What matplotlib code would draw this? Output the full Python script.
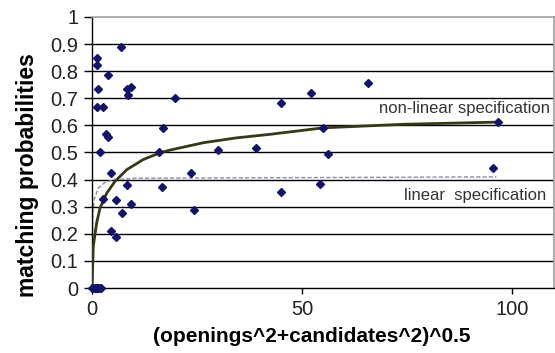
import numpy as np
import matplotlib
matplotlib.use("Agg")
import matplotlib.pyplot as plt

plt.rcParams["font.family"] = "Liberation Sans"

# observed matching probabilities
obs_x = [0.0, 0.3, 0.6, 0.9, 1.2, 1.5, 1.8, 2.1,
         1.1, 1.1, 6.8, 1.5, 3.7, 1.3, 2.7, 3.3, 3.7, 1.9, 4.5, 2.5,
         4.5, 5.6, 5.6, 7.2, 8.3, 9.4, 8.4, 8.6, 9.4, 19.8, 17.0, 16.0,
         16.7, 23.5, 24.3, 30.1, 39.0, 44.9, 52.1, 65.8, 55.1, 56.3,
         44.9, 54.3, 96.6, 95.4]
obs_y = [0.0, 0.0, 0.0, 0.0, 0.0, 0.0, 0.0, 0.0,
         0.848, 0.823, 0.888, 0.733, 0.785, 0.669, 0.669, 0.569, 0.558, 0.501, 0.425, 0.328,
         0.210, 0.188, 0.326, 0.277, 0.379, 0.311, 0.733, 0.711, 0.743, 0.700, 0.591, 0.501,
         0.372, 0.426, 0.289, 0.509, 0.517, 0.681, 0.721, 0.758, 0.591, 0.495,
         0.353, 0.385, 0.612, 0.443]

# non-linear specification (fitted curve)
nl_x = [0.0, 0.3, 1.1, 1.9, 3.5, 5.5, 8.3, 12.2, 16.2, 18.6, 26.5, 34.4, 42.4, 55.1, 74.1, 96.3]
nl_y = [0.0, 0.153, 0.24, 0.295, 0.35, 0.394, 0.437, 0.474, 0.499, 0.509, 0.536, 0.554, 0.567, 0.591, 0.604, 0.612]

# linear specification
lin_x = [0.0, 0.2, 0.5, 1.5, 3.1, 5.1, 10.0, 96.3]
lin_y = [0.0, 0.264, 0.326, 0.369, 0.39, 0.399, 0.405, 0.41]

x_ticks = [0, 50, 100]
y_ticks = [0, 0.1, 0.2, 0.3, 0.4, 0.5, 0.6, 0.7, 0.8, 0.9, 1]
y_tick_labels = ["0", "0.1", "0.2", "0.3", "0.4", "0.5", "0.6", "0.7", "0.8", "0.9", "1"]


def main():
    fig = plt.figure(figsize=(5.55, 3.53), dpi=100)
    ax = fig.add_axes([0.1658, 0.184, 0.8322, 0.768])

    for yv in y_ticks[1:-1]:
        ax.axhline(yv, color="black", lw=1.0, zorder=1)

    ax.plot(lin_x, lin_y, linestyle="--", dashes=(3, 1.5), color="#8a8aa8", lw=1.0, zorder=2)
    ax.plot(nl_x, nl_y, color="#353a12", lw=2.0, zorder=3)
    ax.plot(obs_x, obs_y, linestyle="None", marker="D", ms=4, color="#13136e",
            zorder=5, clip_on=False)

    ax.text(0.991, 0.664, "non-linear specification", transform=ax.transAxes,
            ha="right", va="center", fontsize=12, color="#333333")
    ax.text(0.983, 0.343, "linear  specification", transform=ax.transAxes,
            ha="right", va="center", fontsize=12, color="#333333")

    ax.set_xlim(0, 110)
    ax.set_ylim(0, 1)
    ax.set_xticks(x_ticks)
    ax.set_yticks(y_ticks)
    ax.set_yticklabels(y_tick_labels)
    ax.tick_params(axis="both", labelsize=14.5, colors="black", width=1, labelcolor="#222222")
    ax.tick_params(axis="y", length=6, pad=4)
    ax.tick_params(axis="x", length=4.5, pad=4)

    for side in ["top", "right"]:
        ax.spines[side].set_color("#a0a0a0")
        ax.spines[side].set_linewidth(1.2)
    for side in ["left", "bottom"]:
        ax.spines[side].set_color("black")
        ax.spines[side].set_linewidth(1.0)

    ax.set_xlabel("(openings^2+candidates^2)^0.5", fontsize=15, fontweight="bold")
    ax.set_ylabel("matching probabilities", fontsize=16.5, fontweight="bold")
    ax.xaxis.set_label_coords(0.476, -0.142)
    ax.yaxis.set_label_coords(-0.115, 0.417)

    fig.savefig("out.png", dpi=100)
    plt.close(fig)


if __name__ == "__main__":
    main()
